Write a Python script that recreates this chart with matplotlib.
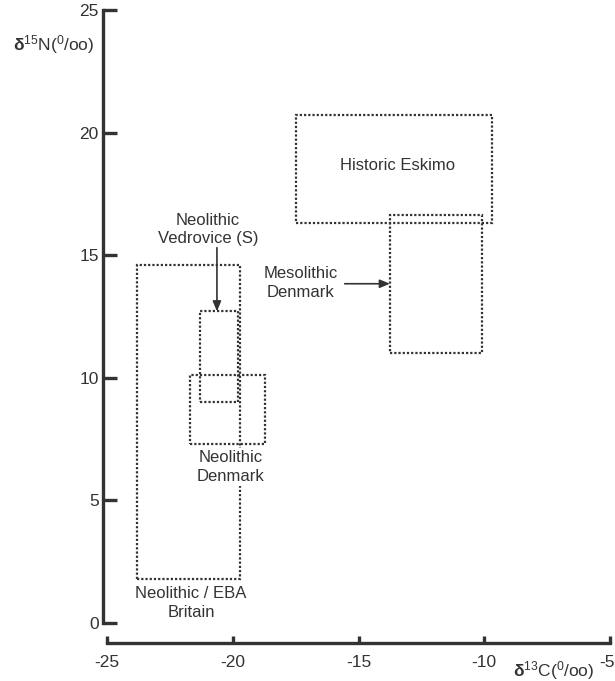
import matplotlib.pyplot as plt
from matplotlib.patches import Rectangle

plt.rcParams['font.family'] = ['Liberation Sans', 'DejaVu Sans']
plt.rcParams['mathtext.fontset'] = 'custom'
plt.rcParams['mathtext.rm'] = 'Liberation Sans'
plt.rcParams['mathtext.it'] = 'Liberation Sans:italic'
plt.rcParams['mathtext.bf'] = 'Liberation Sans:bold'
plt.rcParams['axes.unicode_minus'] = False

# isotope ranges of each group: d13C min/max, d15N min/max (per mil)
groups = ['Neolithic / EBA\nBritain', 'Neolithic\nVedrovice (S)', 'Neolithic\nDenmark',
          'Historic Eskimo', 'Mesolithic\nDenmark']
c13_min = [-23.8, -21.3, -21.7, -17.5, -13.75]
c13_max = [-19.7, -19.8, -18.7, -9.7, -10.1]
n15_min = [1.8, 9.0, 7.3, 16.3, 11.0]
n15_max = [14.6, 12.7, 10.1, 20.7, 16.65]

xticks = [-25, -20, -15, -10, -5]
yticks = [0, 5, 10, 15, 20, 25]

ink = '#333333'

fig = plt.figure(figsize=(6.15, 6.81), dpi=100)
ax = fig.add_axes([0.1675, 0.0551, 0.8244, 0.9302])

for i in range(len(groups)):
    r = Rectangle((c13_min[i], n15_min[i]), c13_max[i] - c13_min[i], n15_max[i] - n15_min[i],
                  fill=False, edgecolor=ink, linewidth=1.6, linestyle=(0, (1, 0.9)))
    ax.add_patch(r)

# labels
ls = 1.3
ax.text(-21.66, 0.8, groups[0], ha='center', va='center', fontsize=12, color=ink, linespacing=ls)
ax.text(-20.1, 6.36, groups[2], ha='center', va='center', fontsize=12, color=ink, linespacing=ls,
        bbox=dict(facecolor='white', edgecolor='none', pad=1.5), zorder=3)
ax.text(-13.45, 18.67, groups[3], ha='center', va='center', fontsize=12, color=ink)
arrow = dict(arrowstyle='-|>,head_length=0.6,head_width=0.25', color=ink, lw=1.2, shrinkA=0, shrinkB=0)
ax.text(-20.98, 16.05, groups[1], ha='center', va='center', fontsize=12, color=ink, linespacing=ls)
ax.annotate('', xy=(-20.63, n15_max[1]), xytext=(-20.63, 15.3), arrowprops=arrow)
ax.text(-17.3, 13.87, groups[4], ha='center', va='center', fontsize=12, color=ink, linespacing=ls)
ax.annotate('', xy=(c13_min[4], 13.83), xytext=(-15.55, 13.83), arrowprops=arrow)

ax.set_xlim(-25.16, -5)
ax.set_ylim(-0.85, 25)
ax.set_xticks(xticks)
ax.set_yticks(yticks)
ax.spines['top'].set_visible(False)
ax.spines['right'].set_visible(False)
ax.spines['left'].set_bounds(0, 25)
ax.spines['bottom'].set_bounds(-25, -5)
for s in ['left', 'bottom']:
    ax.spines[s].set_linewidth(2.4)
    ax.spines[s].set_color(ink)
ax.tick_params(axis='y', direction='in', length=10, width=2.4, color=ink,
               labelsize=12.5, labelcolor=ink, pad=3)
ax.tick_params(axis='x', direction='in', length=5, width=2.4, color=ink,
               labelsize=12.5, labelcolor=ink, pad=8)
ax.get_xticklabels()[-1].set_visible(False)
fig.text(0.999, 0.027, '-5', ha='right', va='center', fontsize=12.5, color=ink)

fig.text(0.021, 0.934, r'$\mathbf{\delta}^{15}$N(${}^{0}$/oo)', ha='left', va='center',
         fontsize=12.5, color=ink)
fig.text(0.9, 0.016, r'$\mathbf{\delta}^{13}$C(${}^{0}$/oo)', ha='center', va='center',
         fontsize=12.5, color=ink)

fig.savefig('out.png', dpi=100)
